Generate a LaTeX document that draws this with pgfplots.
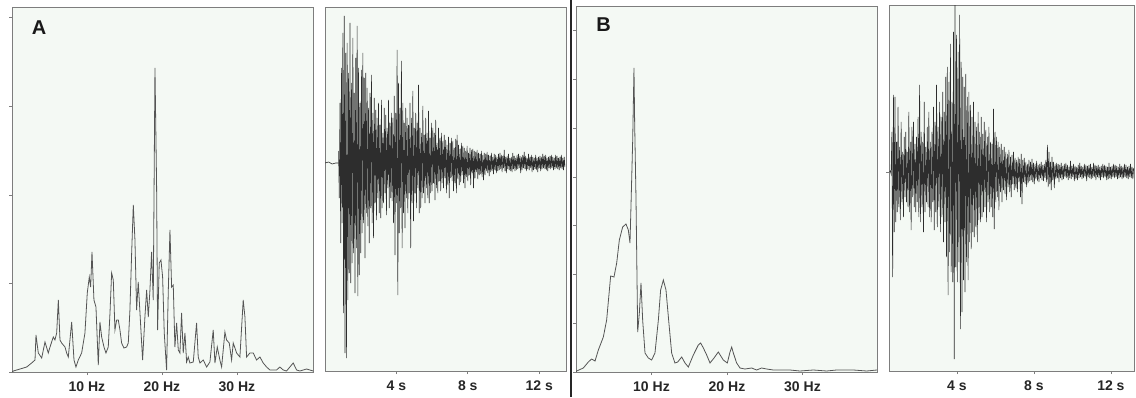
\documentclass[border=0pt]{standalone}
\usepackage{pgfplots}
\pgfplotsset{compat=1.18}
\usepackage{fontspec}
\setmainfont{Liberation Sans}
\definecolor{panelbg}{RGB}{244,249,244}
\definecolor{framegray}{RGB}{125,125,125}
\definecolor{specline}{RGB}{85,85,85}
\definecolor{waveline}{RGB}{45,45,45}
\pgfplotsset{
  panel/.style={
    scale only axis, anchor=south west,
    axis background/.style={fill=panelbg},
    axis line style={draw=framegray, line width=0.5pt},
    tick style={draw=framegray, line width=0.4pt},
    major tick length=1.5pt, tick align=outside,
    xtick pos=bottom, ytick pos=left,
    ticklabel style={font=\bfseries\fontsize{7}{8}\selectfont, text=black!85},
    yticklabels={},
  },
  spec/.style={panel, xmin=0, xtick={10,20,30}, xticklabels={10 Hz,20 Hz,30 Hz}, ymin=0},
  wave/.style={panel, xtick={4,8,12}, xticklabels={4 s,8 s,12 s}},
}
\begin{document}
\begin{tikzpicture}
\useasboundingbox (0pt,0pt) rectangle (568pt,198.5pt);
\fill[white] (0pt,0pt) rectangle (568pt,198.5pt);
% ---------- A spectrum ----------
\begin{axis}[spec, at={(6pt,12.5pt)}, width=150.5pt, height=182pt, xmax=40.15, ymax=364, ytick={0,89,177,266,355}]
\addplot[specline, line width=0.4pt] coordinates {
(0,0) (0.18,1) (1.07,3) (1.96,5) (2.62,9) (3.07,12) (3.20,37) (3.51,19) (3.96,14) (4.40,30) (4.84,19) (5.07,25) (5.51,35) (5.73,32) (5.96,39) (6.18,72) (6.40,32) (6.62,29) (7.07,25) (7.29,19) (7.51,15) (7.96,50) (8.27,12) (8.53,5) (8.84,12) (9.29,19) (9.73,39) (10.04,79) (10.31,95) (10.49,85) (10.67,120) (10.93,72) (11.20,65) (11.51,7) (11.73,50) (11.96,35) (12.27,25) (12.53,19) (12.84,25) (13.07,59) (13.29,99) (13.51,92) (13.73,42) (13.96,52) (14.18,52) (14.40,42) (14.62,29) (14.93,24) (15.29,25) (15.51,29) (15.73,62) (15.96,119) (16.18,167) (16.40,132) (16.62,62) (16.84,90) (17.07,59) (17.42,12) (17.73,55) (17.96,82) (18.18,55) (18.40,82) (18.62,120) (18.84,72) (19.07,304) (19.29,185) (19.42,42) (19.64,109) (19.87,112) (20.09,95) (20.31,39) (20.62,2) (20.84,79) (21.07,142) (21.29,85) (21.51,87) (21.73,25) (21.96,49) (22.18,22) (22.40,19) (22.62,59) (22.84,19) (23.07,39) (23.29,10) (23.51,15) (23.73,9) (24.18,10) (24.62,49) (24.84,15) (25.07,9) (25.51,12) (25.96,5) (26.40,10) (26.84,42) (27.07,9) (27.38,25) (27.73,12) (27.96,5) (28.40,40) (28.62,32) (28.98,29) (29.29,12) (29.51,29) (29.96,19) (30.40,15) (30.84,72) (31.07,55) (31.29,15) (31.73,19) (32.18,19) (32.62,12) (33.07,15) (33.51,9) (33.96,5) (34.40,2) (35.29,2) (35.73,5) (36.18,2) (36.62,1) (37.51,9) (37.96,2) (38.40,1) (39.29,3) (40.18,1)
};
\end{axis}
% ---------- A waveform ----------
\begin{axis}[wave, at={(162.5pt,13pt)}, width=120.5pt, height=181.5pt, xmin=0, xmax=13.5, ymin=-208, ymax=155, ytick=\empty]
\addplot[waveline, line width=0.3pt] coordinates {(0,0) (0.2,1) (0.4,-1) (0.6,0) (0.76,0)};
\addplot[waveline, line width=0.3pt] table[header=false, row sep=\\, x expr=0.76+0.04*\coordindex, y index=0] {
12\\ -35\\ 60\\ -80\\ 95\\ -60\\ 130\\ -150\\ 147\\ -190\\ 110\\ -195\\ 120\\ -137\\ 90\\ -110\\ 140\\ -120\\ 80\\ -100\\ 125\\ -90\\ 70\\ -130\\ 105\\
-85\\ 137\\ -133\\ 95\\ -112\\ 60\\ -90\\ 93\\ -70\\ 110\\ -60\\ 85\\ -95\\ 90\\ -50\\ 75\\ -63\\ 55\\ -80\\ 70\\ -45\\ 88\\ -60\\ 50\\ -75\\
65\\ -40\\ 53\\ -57\\ 45\\ -35\\ 60\\ -50\\ 38\\ -55\\ 63\\ -45\\ 30\\ -40\\ 55\\ -30\\ 48\\ -52\\ 35\\ -25\\ 63\\ -45\\ 40\\ -35\\ 50\\
-38\\ 45\\ -60\\ 67\\ -92\\ 50\\ -40\\ 113\\ -132\\ 80\\ -70\\ 55\\ -45\\ 102\\ -85\\ 60\\ -50\\ 40\\ -65\\ 55\\ -35\\ 45\\ -50\\ 38\\ -30\\
60\\ -85\\ 45\\ -40\\ 72\\ -58\\ 35\\ -30\\ 50\\ -45\\ 40\\ -25\\ 78\\ -50\\ 35\\ -45\\ 30\\ -35\\ 57\\ -30\\ 28\\ -40\\ 45\\ -25\\ 30\\
-35\\ 52\\ -40\\ 25\\ -30\\ 40\\ -28\\ 35\\ -20\\ 30\\ -37\\ 43\\ -25\\ 20\\ -30\\ 35\\ -18\\ 25\\ -28\\ 30\\ -20\\ 22\\ -25\\ 28\\ -15\\
23\\ -30\\ 18\\ -22\\ 26\\ -35\\ 20\\ -15\\ 25\\ -18\\ 22\\ -28\\ 15\\ -20\\ 24\\ -30\\ 28\\ -16\\ 18\\ -22\\ 14\\ -19\\ 20\\ -12\\ 17\\
-20\\ 15\\ -25\\ 12\\ -14\\ 17\\ -18\\ 10\\ -12\\ 15\\ -22\\ 13\\ -10\\ 14\\ -25\\ 12\\ -15\\ 11\\ -9\\ 13\\ -16\\ 10\\ -12\\ 9\\ -11\\
12\\ -14\\ 8\\ -17\\ 10\\ -12\\ 9\\ -8\\ 11\\ -10\\ 8\\ -13\\ 7\\ -9\\ 10\\ -8\\ 6\\ -11\\ 9\\ -7\\ 8\\ -10\\ 6\\ -8\\ 9\\
-7\\ 10\\ -6\\ 8\\ -9\\ 7\\ -5\\ 13\\ -8\\ 6\\ -10\\ 7\\ -6\\ 9\\ -7\\ 5\\ -8\\ 6\\ -9\\ 10\\ -6\\ 7\\ -8\\ 5\\ -7\\
8\\ -6\\ 9\\ -5\\ 7\\ -10\\ 6\\ -7\\ 8\\ -5\\ 11\\ -6\\ 7\\ -8\\ 5\\ -6\\ 9\\ -7\\ 6\\ -5\\ 8\\ -9\\ 6\\ -7\\ 5\\
-6\\ 8\\ -7\\ 5\\ -9\\ 6\\ -5\\ 7\\ -8\\ 6\\ -6\\ 9\\ -5\\ 7\\ -6\\ 8\\ -7\\ 5\\ -8\\ 6\\ -5\\ 7\\ -6\\ 8\\ -5\\
6\\ -7\\ 5\\ -6\\ 8\\ -5\\ 7\\ -6\\ 5\\ -7\\ 6\\ -5\\ 8\\ -6\\ 5\\ -7\\ 6\\ -4\\
};
\end{axis}
% ---------- separator ----------
\draw[black!85, line width=1pt] (285.25pt,0pt) -- (285.25pt,198.5pt);
% ---------- B spectrum ----------
\begin{axis}[spec, at={(288pt,12.5pt)}, width=150.5pt, height=182.5pt, xmax=39.87, ymax=365, ytick={0,49,98,147,195,244,293,342}]
\addplot[specline, line width=0.4pt] coordinates {
(0,0) (0.09,1) (0.97,4) (1.63,10) (2.07,13) (2.52,11) (2.96,22) (3.62,35) (4.06,52) (4.59,96) (5.03,95) (5.39,109) (5.74,132) (6.18,145) (6.62,148) (6.93,142) (7.15,129) (7.28,165) (7.51,232) (7.68,304) (7.77,249) (7.95,172) (8.17,40) (8.39,59) (8.61,89) (8.83,52) (9.14,19) (9.58,14) (10.02,12) (10.46,19) (10.91,52) (11.21,82) (11.57,92) (11.92,82) (12.27,52) (12.67,19) (13.11,9) (13.47,10) (14.00,15) (14.44,9) (14.88,5) (15.54,17) (16.20,27) (16.51,29) (16.87,24) (17.31,17) (17.75,9) (18.28,14) (18.85,20) (19.51,12) (20.04,9) (20.40,20) (20.62,25) (20.84,19) (21.28,9) (21.72,4) (22.38,3) (23.27,4) (23.93,2) (24.59,4) (25.25,3) (26.14,2) (27.02,2) (28.34,2) (29.67,1) (31.43,2) (33.20,1) (34.53,2) (36.73,2) (38.50,1) (39.87,2)
};
\end{axis}
% ---------- B waveform ----------
\begin{axis}[wave, at={(444.5pt,13pt)}, width=122.5pt, height=182.5pt, xmin=0.47, xmax=13.2, ymin=-199, ymax=166, ytick={0}]
\addplot[waveline, line width=0.3pt] table[header=false, row sep=\\, x expr=0.5+0.04*\coordindex, y index=0] {
0\\ 1\\ -2\\ 40\\ -105\\ 77\\ -60\\ 75\\ -50\\ 30\\ -40\\ 65\\ -35\\ 25\\ -48\\ 50\\ -30\\ 20\\ -45\\ 35\\ -25\\ 40\\ -30\\ 20\\ -35\\
60\\ -40\\ 30\\ -58\\ 45\\ -25\\ 50\\ -35\\ 28\\ -40\\ 35\\ -30\\ 55\\ -45\\ 87\\ -50\\ 40\\ -35\\ 30\\ -60\\ 70\\ -40\\ 25\\ -30\\ 45\\
-35\\ 60\\ -45\\ 30\\ -50\\ 40\\ -30\\ 65\\ -58\\ 50\\ -40\\ 87\\ -55\\ 45\\ -35\\ 70\\ -60\\ 55\\ -45\\ 80\\ -70\\ 60\\ -50\\ 95\\ -85\\
105\\ -123\\ 90\\ -80\\ 128\\ -100\\ 70\\ -110\\ 140\\ -187\\ 172\\ -95\\ 137\\ -110\\ 120\\ -90\\ 157\\ -157\\ 110\\ -140\\ 95\\ -108\\ 85\\ -120\\ 98\\
-90\\ 75\\ -108\\ 80\\ -70\\ 67\\ -77\\ 55\\ -60\\ 70\\ -65\\ 50\\ -55\\ 45\\ -70\\ 60\\ -48\\ 40\\ -50\\ 55\\ -45\\ 38\\ -40\\ 50\\ -35\\
42\\ -50\\ 35\\ -30\\ 45\\ -40\\ 30\\ -35\\ 28\\ -45\\ 63\\ -57\\ 40\\ -30\\ 35\\ -25\\ 30\\ -38\\ 25\\ -20\\ 28\\ -30\\ 22\\ -18\\ 25\\
-22\\ 20\\ -28\\ 18\\ -15\\ 22\\ -20\\ 15\\ -25\\ 17\\ -12\\ 20\\ -18\\ 14\\ -16\\ 12\\ -20\\ 15\\ -10\\ 13\\ -25\\ 18\\ -32\\ 12\\ -10\\
14\\ -12\\ 10\\ -15\\ 8\\ -11\\ 12\\ -9\\ 10\\ -8\\ 13\\ -10\\ 9\\ -12\\ 8\\ -7\\ 11\\ -9\\ 7\\ -10\\ 8\\ -6\\ 10\\ -8\\ 7\\
-9\\ 8\\ -6\\ 12\\ -10\\ 27\\ -15\\ 20\\ -12\\ 10\\ -18\\ 15\\ -8\\ 10\\ -16\\ 8\\ -7\\ 9\\ -6\\ 8\\ -10\\ 7\\ -6\\ 9\\ -8\\
6\\ -7\\ 8\\ -5\\ 9\\ -6\\ 7\\ -8\\ 5\\ -6\\ 11\\ -7\\ 6\\ -5\\ 8\\ -9\\ 6\\ -7\\ 5\\ -8\\ 7\\ -6\\ 9\\ -5\\ 6\\
-7\\ 5\\ -6\\ 8\\ -5\\ 7\\ -9\\ 6\\ -5\\ 7\\ -6\\ 8\\ -7\\ 5\\ -6\\ 9\\ -5\\ 7\\ -8\\ 6\\ -5\\ 7\\ -6\\ 5\\ -8\\
6\\ -5\\ 8\\ -6\\ 7\\ -5\\ 6\\ -8\\ 5\\ -7\\ 9\\ -6\\ 5\\ -7\\ 6\\ -5\\ 8\\ -6\\ 7\\ -5\\ 6\\ -7\\ 5\\ -6\\ 8\\
-5\\ 6\\ -7\\ 5\\ -6\\ 8\\ -5\\ 7\\ -6\\ 5\\ -7\\ 6\\ -5\\ 8\\ -6\\ 5\\ -7\\ 4\\
};
\end{axis}
% ---------- panel letters ----------
\node[font=\bfseries\fontsize{10}{12}\selectfont, text=black!90] at (19.5pt,184.5pt) {A};
\node[font=\bfseries\fontsize{10}{12}\selectfont, text=black!90] at (301.75pt,186pt) {B};
\end{tikzpicture}
\end{document}
